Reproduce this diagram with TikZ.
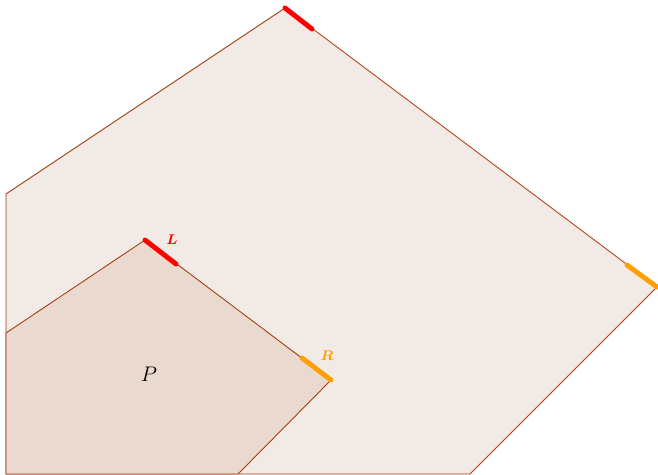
\documentclass[tikz,border=0pt]{standalone}
\usepackage{amsmath}
\usepackage{amssymb}
\usepackage{xcolor}
\usepackage{tikz}

\definecolor{edgebrown}{RGB}{165,60,15}
\definecolor{fillbig}{RGB}{242,234,229}
\definecolor{fillsmall}{RGB}{233,217,207}
\definecolor{markorange}{RGB}{255,160,0}

\begin{document}
\begin{tikzpicture}[x=0.02cm,y=-0.02cm,every node/.style={inner sep=0pt},
  hull/.style={draw=edgebrown,line width=0.5pt},
  lmark/.style={red,line width=2.8pt,line cap=round},
  rmark/.style={markorange,line width=2.8pt,line cap=round}]
  \useasboundingbox (0,0) rectangle (658,474);
  % outer region
  \coordinate (b1) at (6,474); \coordinate (b2) at (6,194);
  \coordinate (b3) at (285,8); \coordinate (b3a) at (312,29);
  \coordinate (b4a) at (627,265); \coordinate (b4) at (657,287);
  \coordinate (b5) at (470,474);
  \filldraw[hull,fill=fillbig] (b1) -- (b2) -- (b3) -- (b4) -- (b5) -- cycle;
  % inner polygon P
  \coordinate (p1) at (6,474); \coordinate (p2) at (6,333);
  \coordinate (p3) at (145,240); \coordinate (p3a) at (176,264);
  \coordinate (p4a) at (302,358); \coordinate (p4) at (331,380);
  \coordinate (p5) at (238,474);
  \filldraw[hull,fill=fillsmall] (p1) -- (p2) -- (p3) -- (p4) -- (p5) -- cycle;
  \draw[lmark] (b3) -- (b3a);
  \draw[rmark] (b4a) -- (b4);
  \draw[lmark] (p3) -- (p3a);
  \draw[rmark] (p4a) -- (p4);
  \node[font=\large] (lab-P) at (149,374) {$P$};
  \node[red,font=\footnotesize] (lab-L) at (172,240) {$\boldsymbol{L}$};
  \node[markorange,font=\footnotesize] (lab-R) at (327,356) {$\boldsymbol{R}$};
\end{tikzpicture}
\end{document}
